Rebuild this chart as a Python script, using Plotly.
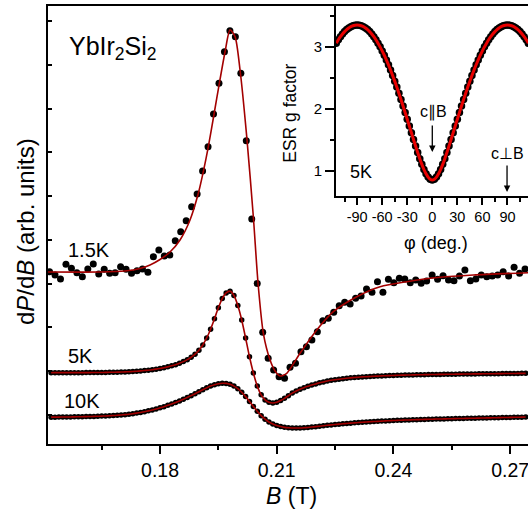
import plotly.graph_objects as go

# ---------------- ESR spectra dP/dB (arb. units) ----------------
# 1.5 K sweep: field grid start / step (T) and measured signal
B15_START, B15_STEP = 0.1516, 0.001405
SIG_1P5K = [
    3.275, 3.199, 3.108, 3.444, 3.352, 3.252, 3.160, 3.336, 3.451, 3.222,
    3.330, 3.238, 3.252, 3.389, 3.330, 3.238, 3.298, 3.336, 3.261, 3.617,
    3.771, 3.633, 3.656, 3.983, 4.189, 4.440, 4.760, 5.050, 5.576, 6.131,
    6.878, 7.580, 8.302, 8.782, 8.645, 7.809, 6.268, 4.479, 3.005, 1.890,
    1.296, 1.028, 0.875, 0.839, 1.090, 1.181, 1.447, 1.561, 1.714, 1.904,
    2.155, 2.210, 2.347, 2.498, 2.575, 2.537, 2.667, 2.719, 2.879, 2.804,
    3.046, 2.804, 3.101, 3.023, 3.124, 3.108, 3.023, 3.085, 3.010, 3.062,
    3.199, 3.101, 3.183, 3.085, 3.069, 3.176, 3.314, 3.069, 3.108, 3.199,
    3.160, 3.176, 3.199, 3.275, 3.176, 3.375, 3.238, 3.336,
]

# 1.5 K line-shape fit
FIT_1P5K_B = [
    0.15120, 0.16457, 0.17100, 0.17486, 0.17743, 0.18000, 0.18257, 0.18514,
    0.18771, 0.18985, 0.19113, 0.19242, 0.19389, 0.19525, 0.19671, 0.19800,
    0.19929, 0.20057, 0.20229, 0.20399, 0.20520, 0.20656, 0.20829, 0.20957,
    0.21086, 0.21258, 0.21600, 0.22029, 0.22456, 0.23058, 0.23657, 0.24344,
    0.25200, 0.26056, 0.27463,
]
FIT_1P5K_Y = [
    3.268, 3.268, 3.291, 3.348, 3.428, 3.553, 3.725, 3.999,
    4.456, 5.066, 5.560, 6.131, 6.878, 7.580, 8.295, 8.800,
    8.645, 7.884, 6.360, 4.531, 3.010, 1.867, 1.257, 1.005,
    0.891, 0.953, 1.410, 1.942, 2.361, 2.703, 2.932, 3.046,
    3.147, 3.199, 3.252,
]

# 5 K and 10 K sweeps share one field grid
BD_START, BD_STEP = 0.152, 0.001
SIG_5K = [
    0.967, 0.967, 0.967, 0.967, 0.967, 0.967, 0.968, 0.968, 0.968, 0.969,
    0.969, 0.970, 0.971, 0.972, 0.973, 0.975, 0.977, 0.979, 0.982, 0.985,
    0.989, 0.994, 1.000, 1.007, 1.015, 1.024, 1.035, 1.048, 1.063, 1.080,
    1.100, 1.123, 1.150, 1.182, 1.220, 1.265, 1.320, 1.390, 1.480, 1.600,
    1.760, 1.960, 2.200, 2.450, 2.660, 2.790, 2.830, 2.730, 2.500, 2.170,
    1.760, 1.330, 0.960, 0.660, 0.460, 0.345, 0.290, 0.275, 0.290, 0.330,
    0.380, 0.440, 0.500, 0.550, 0.590, 0.625, 0.655, 0.685, 0.710, 0.735,
    0.755, 0.775, 0.792, 0.805, 0.818, 0.830, 0.840, 0.849, 0.857, 0.864,
    0.870, 0.875, 0.880, 0.885, 0.889, 0.893, 0.897, 0.900, 0.904, 0.907,
    0.910, 0.912, 0.914, 0.916, 0.918, 0.920, 0.922, 0.923, 0.925, 0.926,
    0.928, 0.929, 0.930, 0.932, 0.933, 0.934, 0.935, 0.937, 0.938, 0.939,
    0.940, 0.941, 0.942, 0.943, 0.944, 0.945, 0.946, 0.947, 0.948, 0.949,
    0.950, 0.951, 0.952,
]
SIG_10K = [
    -0.050, -0.049, -0.048, -0.047, -0.046, -0.045, -0.043, -0.041, -0.039, -0.037,
    -0.035, -0.032, -0.029, -0.026, -0.022, -0.018, -0.013, -0.007, 0.000, 0.008,
    0.018, 0.030, 0.043, 0.058, 0.075, 0.094, 0.115, 0.138, 0.163, 0.190,
    0.220, 0.252, 0.286, 0.322, 0.360, 0.400, 0.442, 0.487, 0.532, 0.577,
    0.620, 0.660, 0.692, 0.714, 0.726, 0.722, 0.700, 0.660, 0.600, 0.520,
    0.420, 0.310, 0.195, 0.085, -0.015, -0.095, -0.160, -0.207, -0.240, -0.265,
    -0.283, -0.293, -0.298, -0.299, -0.297, -0.292, -0.285, -0.276, -0.266, -0.256,
    -0.246, -0.236, -0.227, -0.218, -0.209, -0.201, -0.194, -0.187, -0.180, -0.173,
    -0.167, -0.161, -0.155, -0.150, -0.145, -0.140, -0.135, -0.131, -0.127, -0.123,
    -0.119, -0.116, -0.113, -0.110, -0.107, -0.104, -0.101, -0.098, -0.096, -0.093,
    -0.091, -0.089, -0.087, -0.085, -0.083, -0.081, -0.079, -0.077, -0.075, -0.073,
    -0.071, -0.069, -0.067, -0.065, -0.063, -0.061, -0.059, -0.057, -0.055, -0.053,
    -0.051, -0.049, -0.047,
]

# ---------------- inset: angular dependence of the g factor at 5 K ----------------
PHI_START, PHI_STEP = -115, 2.5
G_5K = [
    3.057, 3.112, 3.161, 3.205, 3.243, 3.276, 3.302, 3.323, 3.338, 3.347,
    3.350, 3.347, 3.338, 3.323, 3.302, 3.276, 3.243, 3.205, 3.161, 3.112,
    3.057, 2.997, 2.932, 2.862, 2.787, 2.708, 2.624, 2.536, 2.444, 2.348,
    2.250, 2.148, 2.044, 1.937, 1.830, 1.721, 1.612, 1.503, 1.397, 1.293,
    1.194, 1.102, 1.019, 0.949, 0.896, 0.862, 0.850,
    0.862, 0.896, 0.949, 1.019, 1.102, 1.194, 1.293, 1.397, 1.503, 1.612,
    1.721, 1.830, 1.937, 2.044, 2.148, 2.250, 2.348, 2.444, 2.536, 2.624,
    2.708, 2.787, 2.862, 2.932, 2.997, 3.057, 3.112, 3.161, 3.205, 3.243,
    3.276, 3.302, 3.323, 3.338, 3.347, 3.350, 3.347, 3.338, 3.323, 3.302,
    3.276, 3.243, 3.205, 3.161, 3.112, 3.057,
]

MAIN_TICKS = [0.18, 0.21, 0.24, 0.27]
INSET_TICKS = [-90, -60, -30, 0, 30, 60, 90]
INSET_TICKTEXT = ["-90", "-60", "-30", "0", "30", "60", "90"]

FONT = "Liberation Sans, Arial, sans-serif"
FIT_RED = "#a30000"

fig = go.Figure()

# dense 5 K / 10 K sweeps: dots with the fit drawn on top
for sig in (SIG_5K, SIG_10K):
    fig.add_trace(go.Scatter(x0=BD_START, dx=BD_STEP, y=sig, mode="markers",
                             marker=dict(color="black", size=5.5), showlegend=False))
    fig.add_trace(go.Scatter(x0=BD_START, dx=BD_STEP, y=sig, mode="lines",
                             line=dict(color=FIT_RED, width=1.6, shape="spline", smoothing=0.6),
                             showlegend=False))

# 1.5 K sweep and its fit
fig.add_trace(go.Scatter(x0=B15_START, dx=B15_STEP, y=SIG_1P5K, mode="markers",
                         marker=dict(color="black", size=7), showlegend=False))
fig.add_trace(go.Scatter(x=FIT_1P5K_B, y=FIT_1P5K_Y, mode="lines",
                         line=dict(color=FIT_RED, width=1.6, shape="spline", smoothing=0.7),
                         showlegend=False))

# inset g(phi)
fig.add_trace(go.Scatter(x0=PHI_START, dx=PHI_STEP, y=G_5K, mode="markers",
                         marker=dict(color="black", size=7.5),
                         xaxis="x2", yaxis="y2", showlegend=False))
fig.add_trace(go.Scatter(x0=PHI_START, dx=PHI_STEP, y=G_5K, mode="lines",
                         line=dict(color="#e80000", width=3, shape="spline"),
                         xaxis="x2", yaxis="y2", showlegend=False))

axis_common = dict(showgrid=False, zeroline=False, showline=True, linecolor="black",
                   linewidth=2, tickcolor="black", tickwidth=1.6)

fig.update_layout(
    width=528, height=514,
    margin=dict(l=48, r=0, t=6, b=70),
    paper_bgcolor="white", plot_bgcolor="white",
    font=dict(family=FONT, color="black"),
    xaxis=dict(**axis_common, domain=[0, 1], range=[0.1512, 0.2746], mirror=True,
               tickvals=MAIN_TICKS, ticktext=[f"{v:.2f}" for v in MAIN_TICKS],
               ticks="outside", ticklen=8, ticklabeloverflow="allow",
               minor=dict(ticks="outside", ticklen=4, tick0=0.165, dtick=0.03,
                          tickcolor="black", tickwidth=1.6),
               tickfont=dict(size=19.5, family=FONT)),
    yaxis=dict(**axis_common, domain=[0, 1], range=[-0.663, 9.346],
               tick0=0, dtick=1, ticks="inside", ticklen=4, showticklabels=False),
    xaxis2=dict(**axis_common, domain=[0.6, 1], anchor="y2", range=[-115.3, 114.6],
                mirror=True, tickvals=INSET_TICKS, ticktext=INSET_TICKTEXT,
                ticks="outside", ticklen=7, ticklabeloverflow="allow",
                minor=dict(ticks="outside", ticklen=4, tick0=-105, dtick=30,
                           tickcolor="black", tickwidth=1.6),
                tickfont=dict(size=14.5, family=FONT)),
    yaxis2=dict(**axis_common, domain=[0.566, 1], anchor="x2", range=[0.59, 3.656],
                tickvals=[1, 2, 3], ticks="outside", ticklen=9,
                minor=dict(ticks="outside", ticklen=4, tick0=0.5, dtick=1,
                           tickcolor="black", tickwidth=1.6),
                tickfont=dict(size=15, family=FONT)),
)


def label(text, x, y, size, ref=("paper", "paper"), angle=0, xanchor="center"):
    return dict(text=text, xref=ref[0], yref=ref[1], x=x, y=y, textangle=angle,
                xanchor=xanchor, yanchor="middle", showarrow=False,
                font=dict(size=size, family=FONT))


ann = [
    # axis titles
    label("d<i>P</i>/d<i>B</i> (arb. units)", -0.048, 0.486, 24, angle=-90),
    label("<i>B</i> (T)", 0.508, -0.119, 23),
    label("YbIr<sub>2</sub>Si<sub>2</sub>", 0.04, 0.905, 25, xanchor="left"),
    # temperature labels on the spectra
    label("1.5K", 0.0854, 0.443, 20),
    label("5K", 0.0667, 0.200, 20),
    label("10K", 0.0708, 0.098, 20),
    # inset titles and labels
    label("ESR g factor", 0.504, 0.756, 17.5, angle=-90),
    label("\u03c6 (deg.)", 0.808, 0.459, 18),
    label("5K", -85.4, 0.98, 18, ref=("x2", "y2")),
    label("c\u2225B", 2, 1.947, 16, ref=("x2", "y2")),
    label("c\u22a5B", 90.5, 1.27, 16, ref=("x2", "y2")),
]
for x, y in ((0, 1.302), (89.5, 0.656)):
    ann.append(dict(text="", xref="x2", yref="y2", x=x, y=y, ax=0, ay=-28,
                    showarrow=True, arrowhead=2, arrowsize=1, arrowwidth=1.3,
                    arrowcolor="black"))
fig.update_layout(annotations=ann)

fig.write_html("out.html")
